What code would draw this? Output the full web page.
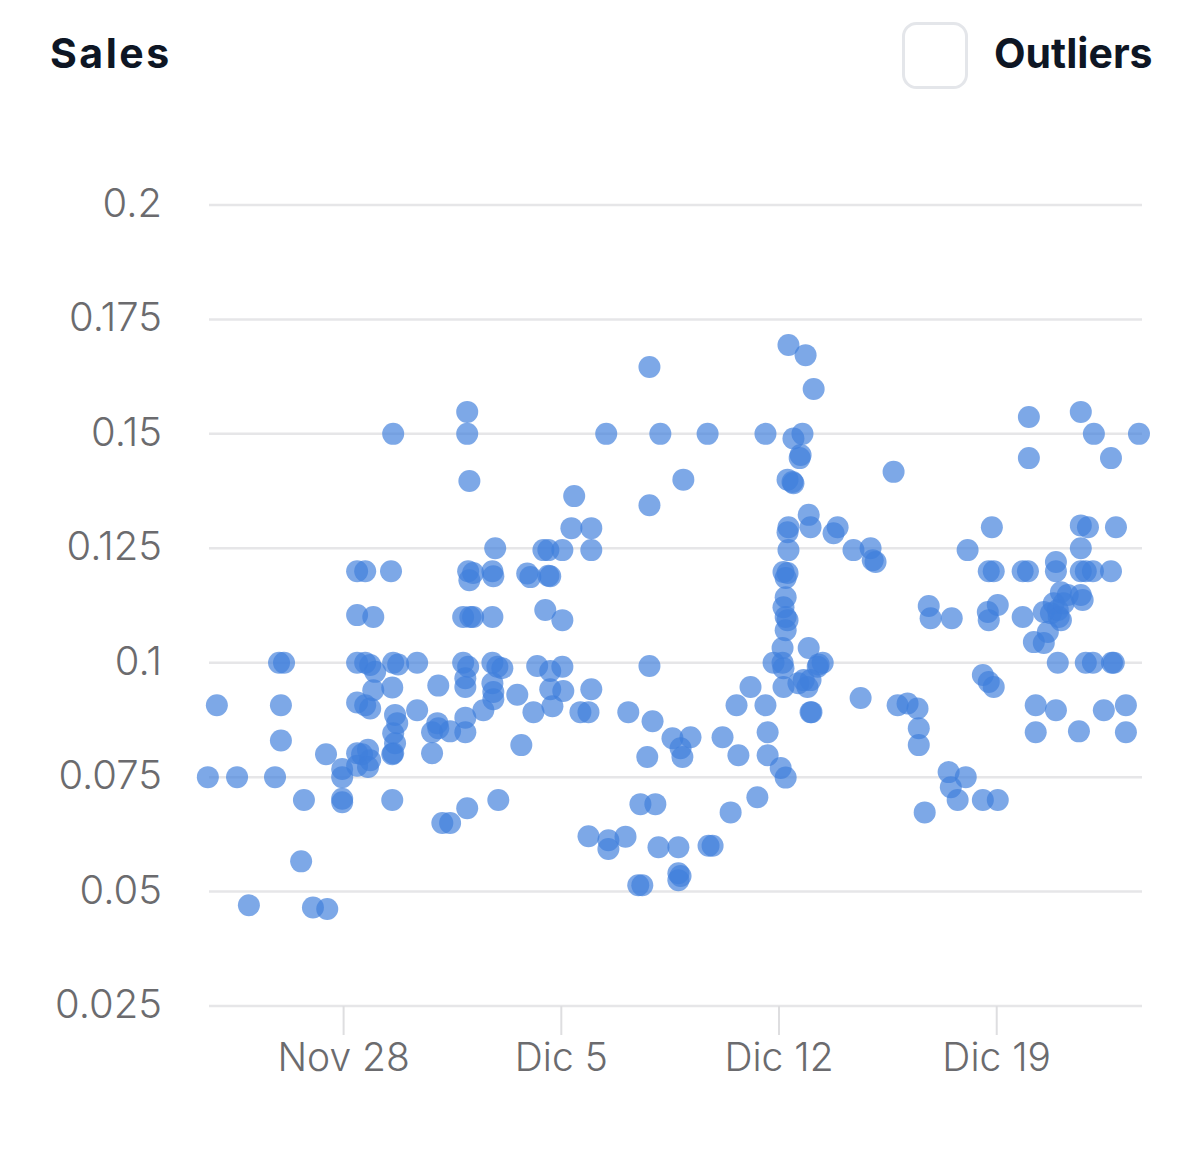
<!DOCTYPE html>
<html>
<head>
<meta charset="utf-8">
<script src="https://cdn.jsdelivr.net/npm/d3@7"></script>
<style>
  body { margin: 0; background: #fff; }
  svg { display: block; }
</style>
</head>
<body>
<div id="chart"></div>
<script>
// days after Nov 28 (fractional) and sales value of each point
var saleDays = [
  -4.35, -4.06, -3.41, -3.03, -2.19, -2.06, -1.9, -2.0, -2.0, -1.26, -1.35, -0.97, -0.51, -0.55, -0.03, -0.03, -0.03, -0.03,
  0.45, 0.45, 0.45, 0.45, 0.45, 0.45, 0.71, 0.97, 0.71, 0.87, 1.03, 0.97, 0.71, 0.87, 0.61, 0.8, 0.87, 0.8,
  1.61, 1.54, 1.61, 1.77, 1.58, 1.67, 1.74, 1.61, 1.67, 1.61, 1.58, 1.58,
  2.38, 2.38, 3.06, 2.86, 3.06, 3.03, 3.44, 2.86, 3.19, 3.44,
  3.99, 3.99, 4.06, 4.02, 4.18, 4.06, 3.86, 4.09, 4.18, 3.86, 4.02, 3.93, 3.93, 3.93, 3.93, 3.99,
  4.51, 4.89, 4.8, 4.83, 4.8, 4.8, 4.96, 5.12, 4.8, 4.83, 4.83, 4.99,
  5.6, 5.73, 5.92, 6.02, 6.12, 6.24,
  6.44, 6.6, 7.05, 6.6, 6.66, 6.5, 7.05, 6.66, 7.05, 6.66, 7.08, 6.73,
  7.43, 7.34, 7.98, 7.98, 7.98, 7.63, 7.89, 7.89, 8.53, 9.08, 8.53,
  8.46, 9.17, 9.85, 9.85, 9.85, 9.95, 9.78, 9.56, 10.04, 9.49, 9.62, 10.2, 10.14,
  10.94, 10.59, 11.17, 10.85, 10.91, 10.78, 10.78, 10.78, 10.85,
  11.72, 11.75, 11.88, 12.2, 12.46, 12.71, 12.65,
  13.1, 13.32, 13.58, 13.58, 13.65, 13.65, 14.07, 14.23, 13.84, 14.13, 14.16, 14.16,
  14.32, 14.87, 15.13, 14.48, 14.77, 14.71, 14.68, 14.29, 14.45, 14.48,
  14.97, 15.03, 14.32, 14.29, 14.32, 14.16, 14.29, 14.23, 14.23, 14.16,
  14.23, 14.29, 14.23, 14.13, 14.64, 14.93, 15.03, 15.29, 14.97, 15.26,
  15.03, 15.06, 15.42, 14.81,
  15.77, 15.9, 16.41, 16.96, 17.03, 17.12, 16.64,
  17.7, 17.83, 18.15, 18.47, 18.51, 18.51, 18.7, 18.83, 18.89, 19.57,
  19.47, 20.02, 19.54, 19.76, 20.08,
  20.57, 20.76, 20.92, 20.57, 21.05, 20.86, 20.76, 20.92, 20.73, 21.05, 20.76,
  22.05, 22.05, 21.85, 22.02, 22.92, 22.92, 21.85, 22.53, 22.76, 23.01,
  23.08, 22.21, 22.53, 22.66, 22.98, 22.27, 22.92, 22.27, 23.08, 23.3,
  22.85, 22.98, 23.17,
  23.72, 24.14, 25.59, 24.69, 23.72, 23.95, 24.85, 23.72, 23.72, 23.88,
  24.11, 24.69, 23.72, 23.78, 23.88, 24.11, 24.78, 24.72, 24.46, 25.17,
  23.66, 25.17
]

var saleValues = [
  0.075, 0.0907, 0.075, 0.047, 0.075, 0.1, 0.1, 0.0907, 0.083, 0.07, 0.0566, 0.0465, 0.0462, 0.08, 0.0768, 0.075, 0.0703, 0.0695,
  0.12, 0.1104, 0.1, 0.0913, 0.0802, 0.0775, 0.12, 0.11, 0.1, 0.0995, 0.098, 0.094, 0.0907, 0.09, 0.08, 0.081, 0.0787, 0.0772,
  0.15, 0.12, 0.1, 0.0996, 0.0946, 0.0886, 0.0868, 0.0846, 0.0824, 0.0802, 0.08, 0.07,
  0.1, 0.0896, 0.095, 0.0848, 0.0857, 0.0868, 0.085, 0.0802, 0.065, 0.065,
  0.1548, 0.15, 0.1397, 0.12, 0.1196, 0.118, 0.11, 0.11, 0.11, 0.1, 0.0991, 0.0966, 0.0947, 0.088, 0.0848, 0.0682,
  0.0896, 0.125, 0.12, 0.1189, 0.11, 0.1, 0.0991, 0.0988, 0.0955, 0.0936, 0.092, 0.07,
  0.093, 0.082, 0.1195, 0.1187, 0.0892, 0.0993,
  0.1246, 0.1246, 0.1246, 0.119, 0.1189, 0.1115, 0.1093, 0.0982, 0.0991, 0.0942, 0.0938, 0.0905,
  0.1364, 0.1294, 0.1294, 0.1246, 0.0942, 0.0892, 0.0892, 0.0621, 0.0612, 0.062, 0.0593,
  0.15, 0.0892, 0.1646, 0.1344, 0.0993, 0.0872, 0.0794, 0.0691, 0.0691, 0.0514, 0.0514, 0.15, 0.0597,
  0.14, 0.0835, 0.0837, 0.0813, 0.0794, 0.0597, 0.054, 0.0525, 0.0534,
  0.15, 0.06, 0.06, 0.0837, 0.0673, 0.0798, 0.0907,
  0.0947, 0.0706, 0.15, 0.0907, 0.0848, 0.0798, 0.077, 0.0749, 0.1, 0.1, 0.0988, 0.0947,
  0.1694, 0.1672, 0.1598, 0.149, 0.15, 0.1454, 0.1447, 0.14, 0.1395, 0.1392,
  0.1323, 0.1296, 0.1296, 0.1285, 0.1246, 0.1198, 0.1196, 0.1185, 0.1143, 0.1121,
  0.11, 0.1093, 0.1071, 0.1032, 0.0955, 0.0947, 0.0962, 0.0996, 0.1032, 0.0991,
  0.0892, 0.0892, 0.1, 0.0962,
  0.1283, 0.1296, 0.1246, 0.125, 0.1224, 0.122, 0.0923,
  0.1417, 0.0907, 0.0911, 0.09, 0.0857, 0.082, 0.0673, 0.1124, 0.1097, 0.1097,
  0.0761, 0.075, 0.0728, 0.07, 0.1246,
  0.0973, 0.0958, 0.0947, 0.07, 0.07, 0.1296, 0.12, 0.12, 0.1111, 0.1126, 0.1093,
  0.1537, 0.1447, 0.12, 0.12, 0.122, 0.12, 0.11, 0.1111, 0.1108, 0.11,
  0.1093, 0.1045, 0.1043, 0.1067, 0.1, 0.0907, 0.0896, 0.0848, 0.1154, 0.1148,
  0.113, 0.1115, 0.113,
  0.1548, 0.15, 0.15, 0.1447, 0.13, 0.1296, 0.1296, 0.125, 0.12, 0.12,
  0.12, 0.12, 0.1148, 0.1137, 0.1, 0.1, 0.1, 0.1, 0.0896, 0.0907,
  0.085, 0.0848
]

var yTicks = [0.025, 0.05, 0.075, 0.1, 0.125, 0.15, 0.175, 0.2]
var xTickDates = ['2022-11-28', '2022-12-05', '2022-12-12', '2022-12-19']
var xTickLabels = ['Nov 28', 'Dic 5', 'Dic 12', 'Dic 19']
var xStart = '2022-11-23T16:30'
var xEnd = '2022-12-23T16:30'

var width = 1200
var height = 1149
var margin = { top: 205, left: 209, right: 58, bottom: 143 }
var font = 'Inter, sans-serif'

var parseDay = d3.timeParse('%Y-%m-%d')
var parseTime = d3.timeParse('%Y-%m-%dT%H:%M')
var baseDay = parseDay('2022-11-28')

var points = d3.zip(saleDays, saleValues).map(d => ({
  date: new Date(baseDay.getTime() + d[0] * 864e5),
  value: d[1]
}))

var svg = d3
  .select('#chart')
  .append('svg')
  .attr('width', width)
  .attr('height', height)

var xScale = d3
  .scaleTime()
  .domain([parseTime(xStart), parseTime(xEnd)])
  .range([margin.left, width - margin.right])

var yScale = d3
  .scaleLinear()
  .domain([0.025, 0.2])
  .range([height - margin.bottom, margin.top])

// header
svg
  .append('text')
  .text('Sales')
  .attr('x', 50)
  .attr('y', 68)
  .attr('font-family', font)
  .attr('font-size', 41)
  .attr('font-weight', 700)
  .attr('letter-spacing', 2.5)
  .attr('fill', '#0e1624')

svg
  .append('rect')
  .attr('x', 903.5)
  .attr('y', 23.5)
  .attr('width', 63)
  .attr('height', 64)
  .attr('rx', 13)
  .attr('fill', '#fff')
  .attr('stroke', '#e4e6ea')
  .attr('stroke-width', 3)

svg
  .append('text')
  .text('Outliers')
  .attr('x', 994)
  .attr('y', 68)
  .attr('font-family', font)
  .attr('font-size', 41)
  .attr('font-weight', 700)
  .attr('fill', '#0e1624')

// grid + y labels
svg
  .selectAll('.grid')
  .data(yTicks)
  .enter()
  .append('line')
  .attr('class', 'grid')
  .attr('x1', margin.left)
  .attr('x2', width - margin.right)
  .attr('y1', d => yScale(d))
  .attr('y2', d => yScale(d))
  .attr('stroke', '#e6e6e8')
  .attr('stroke-width', 2.5)

svg
  .selectAll('.y-label')
  .data(yTicks)
  .enter()
  .append('text')
  .attr('class', 'y-label')
  .text(d => d)
  .attr('x', 162)
  .attr('y', d => yScale(d))
  .attr('dy', '0.3em')
  .attr('text-anchor', 'end')
  .attr('font-family', font)
  .attr('font-size', 40)
  .attr('font-weight', 300)
  .attr('fill', '#6b6b6e')

// x ticks
var xAxis = svg
  .append('g')
  .attr('transform', `translate(0,${height - margin.bottom})`)
  .call(
    d3
      .axisBottom(xScale)
      .tickValues(xTickDates.map(parseDay))
      .tickFormat((d, i) => xTickLabels[i])
      .tickSize(29)
      .tickPadding(8)
  )

xAxis.select('.domain').remove()
xAxis.selectAll('.tick line').attr('stroke', '#dedee0').attr('stroke-width', 2)
xAxis
  .selectAll('.tick text')
  .attr('font-family', font)
  .attr('font-size', 39)
  .attr('font-weight', 300)
  .attr('fill', '#6b6b6e')

// dots
svg
  .append('g')
  .selectAll('circle')
  .data(points)
  .enter()
  .append('circle')
  .attr('cx', d => xScale(d.date))
  .attr('cy', d => yScale(d.value))
  .attr('r', 11)
  .attr('fill', '#3f7fdc')
  .attr('fill-opacity', 0.68)
</script>
</body>
</html>
